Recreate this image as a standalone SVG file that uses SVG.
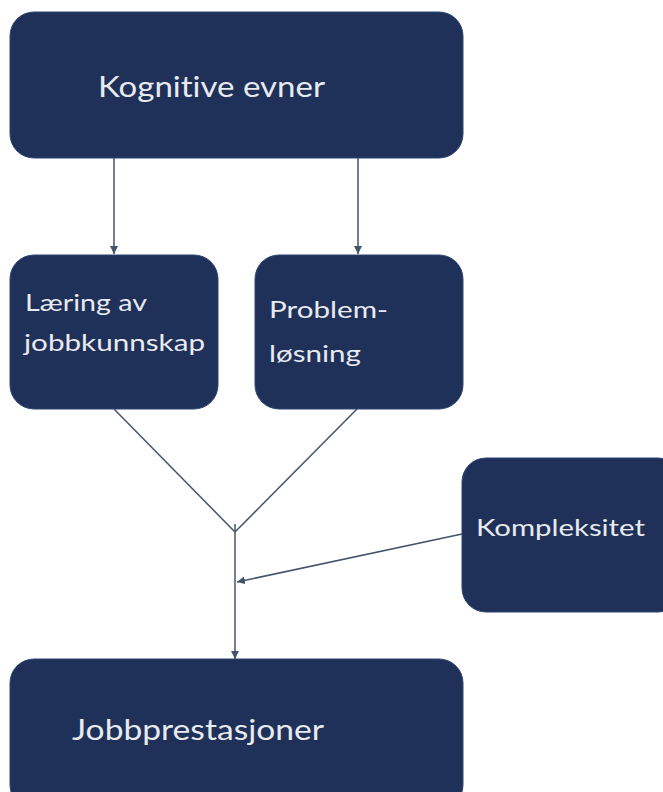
<svg xmlns="http://www.w3.org/2000/svg" width="663" height="792" viewBox="0 0 663 792">
<defs>
<style>
.box{fill:#1F3158;stroke:#2E4576;stroke-width:1}
.t{font-family:Lato,"Noto Sans","Liberation Sans",sans-serif;fill:#E8EAF0;font-variant-ligatures:none}
.c{stroke:#44546A;stroke-width:1.5;fill:none}
</style>
<marker id="ah" viewBox="0 0 10 10" refX="10" refY="5" markerWidth="8" markerHeight="8" markerUnits="userSpaceOnUse" orient="auto">
<path d="M0,0 L10,5 L0,10 Z" fill="#44546A"/>
</marker>
</defs>
<g id="connectors">
<line class="c" x1="114" y1="158" x2="114" y2="254" marker-end="url(#ah)"/>
<line class="c" x1="358" y1="158" x2="358" y2="254" marker-end="url(#ah)"/>
<line class="c" x1="114" y1="409" x2="235" y2="532"/>
<line class="c" x1="357" y1="409" x2="235" y2="532"/>
<line class="c" x1="235" y1="524" x2="235" y2="659" marker-end="url(#ah)"/>
<line class="c" x1="462" y1="534" x2="237" y2="582" marker-end="url(#ah)"/>
</g>
<g id="kognitive">
<rect class="box" x="10" y="12" width="453" height="146" rx="24"/>
<text class="t" x="98" y="97" font-size="29" textLength="227" lengthAdjust="spacingAndGlyphs">Kognitive evner</text>
</g>
<g id="laering">
<rect class="box" x="10" y="255" width="208" height="154" rx="24"/>
<text class="t" x="25" y="311" font-size="24" textLength="122" lengthAdjust="spacingAndGlyphs">Læring av</text>
<text class="t" x="24" y="351" font-size="24" textLength="181" lengthAdjust="spacingAndGlyphs">jobbkunnskap</text>
</g>
<g id="problem">
<rect class="box" x="255" y="255" width="208" height="154" rx="24"/>
<text class="t" x="269" y="318" font-size="24" textLength="119" lengthAdjust="spacingAndGlyphs">Problem-</text>
<text class="t" x="269" y="362" font-size="24" textLength="92" lengthAdjust="spacingAndGlyphs">løsning</text>
</g>
<g id="kompleksitet">
<rect class="box" x="462" y="458" width="220" height="154" rx="24"/>
<text class="t" x="476" y="536" font-size="24" textLength="169" lengthAdjust="spacingAndGlyphs">Kompleksitet</text>
</g>
<g id="jobbprestasjoner">
<rect class="box" x="10" y="659" width="453" height="150" rx="24"/>
<text class="t" x="72" y="740" font-size="29" textLength="252" lengthAdjust="spacingAndGlyphs">Jobbprestasjoner</text>
</g>
</svg>
